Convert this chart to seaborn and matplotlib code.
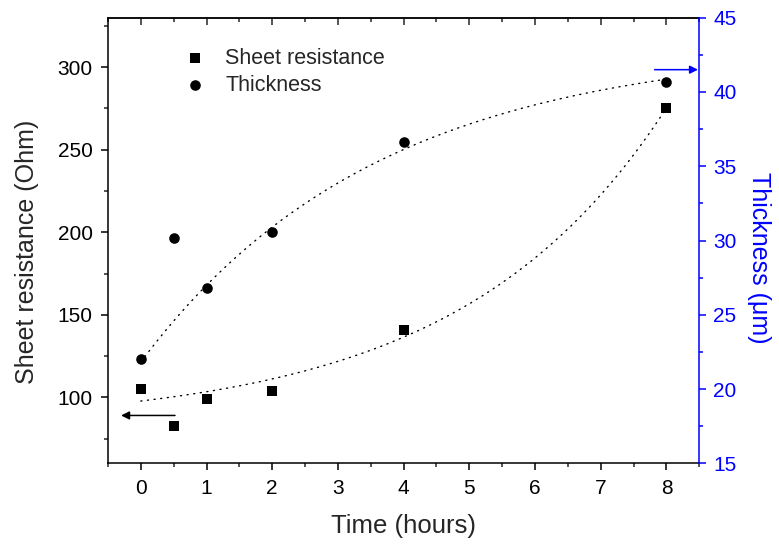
import numpy as np
import pandas as pd
import matplotlib
matplotlib.use("Agg")
import matplotlib.pyplot as plt
import seaborn as sns

# data
time_h = [0, 0.5, 1, 2, 4, 8]
sheet_res = [105, 82.5, 99, 104, 141, 275]
thickness = [22.0, 30.2, 26.8, 30.6, 36.6, 40.7]

df = pd.DataFrame({"time": time_h, "res": sheet_res, "thick": thickness})


def exp_fit(x, y, sign):
    # y = A + B*exp(sign*x/tau), best tau by grid search, A and B by least squares
    x = np.asarray(x, float)
    y = np.asarray(y, float)
    best = None
    for tau in np.linspace(0.3, 30, 3000):
        M = np.column_stack([np.ones_like(x), np.exp(sign * x / tau)])
        coef, *_ = np.linalg.lstsq(M, y, rcond=None)
        err = np.sum((M @ coef - y) ** 2)
        if best is None or err < best[0]:
            best = (err, tau, coef)
    _, tau, coef = best
    xs = np.linspace(x.min(), x.max(), 200)
    return pd.DataFrame({"time": xs, "fit": coef[0] + coef[1] * np.exp(sign * xs / tau)})


# the 0.5 h sample is left out of the trend fit
use = df[df["time"] != 0.5]
fit_res = exp_fit(use["time"], use["res"], +1)
fit_thick = exp_fit(use["time"], use["thick"], -1)

sns.set_style("ticks")
plt.rcParams["font.family"] = ["Liberation Sans", "DejaVu Sans"]

blue = "#0000ff"

fig = plt.figure(figsize=(7.79, 5.44), dpi=100)
ax = fig.add_axes([0.1386, 0.1483, 0.8977 - 0.1386, 0.9675 - 0.1483])
ax2 = ax.twinx()

# fitted trend lines (dotted)
sns.lineplot(data=fit_res, x="time", y="fit", ax=ax, color="black", lw=1,
             dashes=(0.8, 4), dash_capstyle="round")
sns.lineplot(data=fit_thick, x="time", y="fit", ax=ax2, color="black", lw=1,
             dashes=(0.8, 4), dash_capstyle="round")

sns.scatterplot(data=df, x="time", y="res", marker="s", s=50, color="black",
                edgecolor="black", linewidth=0, ax=ax, label="Sheet resistance", legend=False)
sns.scatterplot(data=df, x="time", y="thick", marker="o", s=58, color="black",
                edgecolor="black", linewidth=0, ax=ax2, label="Thickness", legend=False)

ax.set_xlim(-0.3, 8.5)
ax.set_ylim(60, 330)
ax2.set_ylim(15, 45)

ax.set_xticks(range(0, 9))
ax.set_xticks(np.arange(-0.5, 8.6, 0.5), minor=True)
ax.set_yticks([100, 150, 200, 250, 300])
ax.set_yticks(np.arange(75, 330, 25), minor=True)
ax2.set_yticks([15, 20, 25, 30, 35, 40, 45])
ax2.set_yticks(np.arange(17.5, 45, 5), minor=True)

ax.set_xlabel("Time (hours)", fontsize=18.5, labelpad=12)
ax.set_ylabel("Sheet resistance (Ohm)", fontsize=18)
ax.yaxis.set_label_coords(-0.116, 0.475)
ax2.set_ylabel("Thickness (\u03bcm)", fontsize=18, color=blue, rotation=270)
ax2.yaxis.set_label_coords(1.122, 0.462)

ax.tick_params(axis="both", which="major", labelsize=15, length=5, width=1.1,
               direction="out", colors="black", pad=6)
ax.tick_params(axis="both", which="minor", length=3, width=1.1, direction="out")
ax2.tick_params(axis="y", which="major", labelsize=15, length=5, width=1.1,
                direction="out", colors=blue, pad=5)
ax2.tick_params(axis="y", which="minor", length=3, width=1.1, direction="out", colors=blue)

top = ax.secondary_xaxis("top")
top.set_xticks(range(0, 9))
top.set_xticks(np.arange(-0.5, 8.6, 0.5), minor=True)
top.tick_params(which="major", direction="in", length=5, width=1.1, labeltop=False)
top.tick_params(which="minor", direction="in", length=3, width=1.1)
top.spines["top"].set_linewidth(1.1)

for s in ["left", "bottom", "top"]:
    ax.spines[s].set_linewidth(1.1)
    ax.spines[s].set_color("black")
ax.spines["right"].set_visible(False)
ax2.spines["right"].set_color(blue)
ax2.spines["right"].set_linewidth(1.1)
for s in ["left", "bottom", "top"]:
    ax2.spines[s].set_visible(False)

# arrows pointing to the relevant axis
ax.annotate("", xy=(-0.3, 89), xytext=(0.52, 89),
            arrowprops=dict(arrowstyle="-|>", color="black", lw=1.1,
                            mutation_scale=12, shrinkA=0, shrinkB=0))
ax2.annotate("", xy=(8.48, 41.5), xytext=(7.82, 41.5),
             arrowprops=dict(arrowstyle="-|>", color=blue, lw=1.1,
                             mutation_scale=12, shrinkA=0, shrinkB=0))

h1, l1 = ax.get_legend_handles_labels()
h2, l2 = ax2.get_legend_handles_labels()
h1 = [h for h, l in zip(h1, l1) if l == "Sheet resistance"]
h2 = [h for h, l in zip(h2, l2) if l == "Thickness"]
ax2.legend(h1 + h2, ["Sheet resistance", "Thickness"], loc="upper left",
           bbox_to_anchor=(0.093, 0.9765), frameon=False, fontsize=15.5,
           handletextpad=0.8, labelspacing=0.3, handlelength=1.2)

fig.savefig("out.png", dpi=100)
